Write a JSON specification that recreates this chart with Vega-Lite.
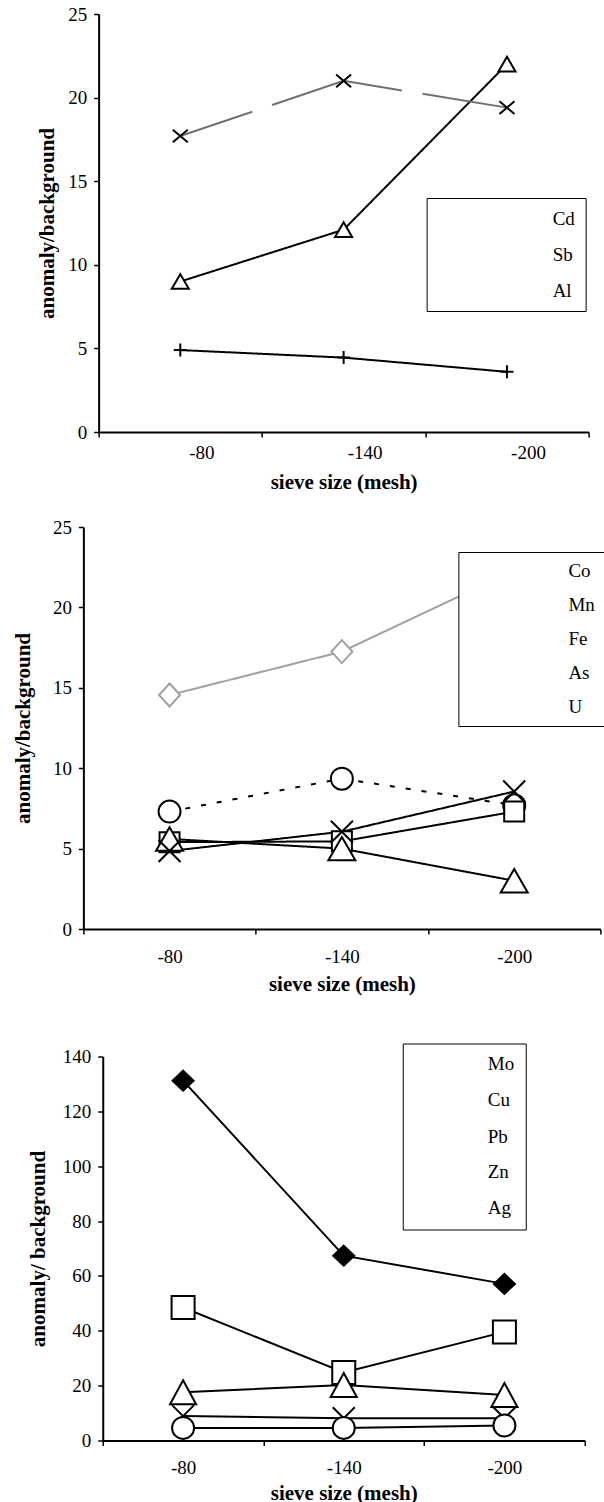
{
  "$schema": "https://vega.github.io/schema/vega-lite/v6.json",
  "padding": {"left": 12, "top": 5, "right": 0, "bottom": 0},
  "background": "#ffffff",
  "datasets": {
    "p1": [
      {"el": "Cd", "mesh": "-80", "v": 9.0}, {"el": "Cd", "mesh": "-140", "v": 12.1}, {"el": "Cd", "mesh": "-200", "v": 22.0},
      {"el": "Sb", "mesh": "-80", "v": 17.7}, {"el": "Sb", "mesh": "-140", "v": 21.0}, {"el": "Sb", "mesh": "-200", "v": 19.4},
      {"el": "Al", "mesh": "-80", "v": 4.9}, {"el": "Al", "mesh": "-140", "v": 4.45}, {"el": "Al", "mesh": "-200", "v": 3.6}
    ],
    "p2": [
      {"el": "Co", "mesh": "-80", "v": 7.3}, {"el": "Co", "mesh": "-140", "v": 9.35}, {"el": "Co", "mesh": "-200", "v": 7.7},
      {"el": "Mn", "mesh": "-80", "v": 5.4}, {"el": "Mn", "mesh": "-140", "v": 5.45}, {"el": "Mn", "mesh": "-200", "v": 7.3},
      {"el": "Fe", "mesh": "-80", "v": 5.6}, {"el": "Fe", "mesh": "-140", "v": 5.0}, {"el": "Fe", "mesh": "-200", "v": 3.0},
      {"el": "As", "mesh": "-80", "v": 4.85}, {"el": "As", "mesh": "-140", "v": 6.05}, {"el": "As", "mesh": "-200", "v": 8.55},
      {"el": "U", "mesh": "-80", "v": 14.55}, {"el": "U", "mesh": "-140", "v": 17.25}, {"el": "U", "mesh": "-200", "v": 22.3}
    ],
    "p3": [
      {"el": "Mo", "mesh": "-80", "v": 131.2}, {"el": "Mo", "mesh": "-140", "v": 67.4}, {"el": "Mo", "mesh": "-200", "v": 57.1},
      {"el": "Cu", "mesh": "-80", "v": 48.5}, {"el": "Cu", "mesh": "-140", "v": 24.8}, {"el": "Cu", "mesh": "-200", "v": 39.6},
      {"el": "Pb", "mesh": "-80", "v": 17.6}, {"el": "Pb", "mesh": "-140", "v": 20.2}, {"el": "Pb", "mesh": "-200", "v": 16.6},
      {"el": "Zn", "mesh": "-80", "v": 8.9}, {"el": "Zn", "mesh": "-140", "v": 8.1}, {"el": "Zn", "mesh": "-200", "v": 8.1},
      {"el": "Ag", "mesh": "-80", "v": 4.6}, {"el": "Ag", "mesh": "-140", "v": 4.6}, {"el": "Ag", "mesh": "-200", "v": 5.5}
    ]
  },
  "config": {
    "view": {"stroke": null},
    "font": "Liberation Serif",
    "axis": {
      "grid": false,
      "domainColor": "#000000", "domainWidth": 2,
      "tickColor": "#000000", "tickWidth": 1.5, "tickSize": 5,
      "labelFont": "Liberation Serif", "labelFontSize": 19, "labelColor": "#000000",
      "titleFont": "Liberation Serif", "titleFontSize": 21, "titleFontWeight": "bold", "titleColor": "#000000"
    }
  },
  "spacing": 25,
  "center": true,
  "resolve": {"scale": {"shape": "independent"}, "legend": {"shape": "independent"}},
  "vconcat": [
    {
      "width": 490, "height": 418,
      "data": {"name": "p1"},
      "encoding": {
        "x": {"field": "mesh", "type": "nominal", "sort": ["-80", "-140", "-200"],
              "scale": {"type": "band", "paddingInner": 0, "paddingOuter": 0},
              "axis": {"title": "sieve size (mesh)", "labelAngle": 0, "tickBand": "extent", "labelPadding": 6, "labelOffset": 21, "titlePadding": 9.5}},
        "y": {"field": "v", "type": "quantitative", "scale": {"domain": [0, 25], "nice": false, "zero": true},
              "axis": {"title": "anomaly/background", "values": [0, 5, 10, 15, 20, 25], "labelPadding": 7, "titlePadding": 10}}
      },
      "layer": [
        {
          "mark": {"type": "line", "strokeWidth": 2},
          "encoding": {
            "detail": {"field": "el", "type": "nominal"},
            "color": {"condition": {"test": "datum.el === 'Sb'", "value": "#707070"}, "value": "#000000"},
            "strokeDash": {"condition": {"test": "datum.el === 'Sb'", "value": [76, 21, 134.4, 21, 100]}, "value": [1, 0]},
            "order": {"value": null}
          }
        },
        {
          "mark": {"type": "point", "filled": true, "size": 900, "strokeWidth": 2, "opacity": 1, "fill": "#ffffff", "stroke": "#000000"},
          "encoding": {
            "shape": {"field": "el", "type": "nominal",
                      "scale": {"domain": ["Cd", "Sb", "Al"], "range": ["M0,-0.49L0.567,0.49L-0.567,0.49Z", "M-0.5,-0.42L0.5,0.42M-0.5,0.42L0.5,-0.42", "M-0.433,0H0.433M0,-0.433V0.433"]},
                      "legend": {
                        "orient": "none", "legendX": 328, "legendY": 184, "title": null, "padding": 10,
                        "strokeColor": "#000000", "fillColor": "#ffffff",
                        "symbolSize": 376, "symbolStrokeWidth": 2, "symbolOpacity": 1,
                        "symbolFillColor": "#ffffff", "symbolStrokeColor": "#000000",
                        "labelFont": "Liberation Serif", "labelFontSize": 19, "labelColor": "#000000", "labelOffset": 94, "rowPadding": 15
                      }}
          }
        }
      ]
    },
    {
      "spacing": 47.5,
      "center": true,
      "resolve": {"scale": {"shape": "independent"}, "legend": {"shape": "independent"}},
      "vconcat": [
        {
          "width": 517, "height": 402,
          "data": {"name": "p2"},
          "encoding": {
            "x": {"field": "mesh", "type": "nominal", "sort": ["-80", "-140", "-200"],
                  "scale": {"type": "band", "paddingInner": 0, "paddingOuter": 0},
                  "axis": {"title": "sieve size (mesh)", "labelAngle": 0, "tickBand": "extent", "labelPadding": 13, "titlePadding": 7.5}},
            "y": {"field": "v", "type": "quantitative", "scale": {"domain": [0, 25], "nice": false, "zero": true},
                  "axis": {"title": "anomaly/background", "values": [0, 5, 10, 15, 20, 25], "labelPadding": 7, "titlePadding": 19}}
          },
          "layer": [
            {
              "mark": {"type": "line", "strokeWidth": 2},
              "encoding": {
                "detail": {"field": "el", "type": "nominal"},
                "color": {"condition": {"test": "datum.el === 'U'", "value": "#a0a0a0"}, "value": "#000000"},
                "strokeDash": {"condition": {"test": "datum.el === 'Co'", "value": [5, 11]}, "value": [1, 0]},
                "order": {"value": null}
              }
            },
            {
              "mark": {"type": "point", "filled": true, "size": 900, "strokeWidth": 2, "opacity": 1, "fill": "#ffffff"},
              "encoding": {
                "stroke": {"condition": {"test": "datum.el === 'U'", "value": "#a0a0a0"}, "value": "#000000"},
                "shape": {"field": "el", "type": "nominal",
                          "scale": {"domain": ["Co", "Mn", "Fe", "As", "U"], "range": [
                            "M0.733,0A0.733,0.733,0,1,1,-0.733,0A0.733,0.733,0,1,1,0.733,0Z",
                            "M-0.667,-0.667H0.667V0.667H-0.667Z",
                            "M0,-0.78L0.9,0.78L-0.9,0.78Z",
                            "M-0.733,-0.733L0.733,0.733M-0.733,0.733L0.733,-0.733",
                            "M0,-0.767L0.7,0L0,0.767L-0.7,0Z"]},
                          "legend": {
                            "orient": "none", "legendX": 375, "legendY": 25, "title": null, "padding": 9,
                            "strokeColor": "#000000", "fillColor": "#ffffff",
                            "symbolSize": 169, "symbolStrokeWidth": 2, "symbolOpacity": 1,
                            "symbolFillColor": "#ffffff", "symbolStrokeColor": "#000000",
                            "labelFont": "Liberation Serif", "labelFontSize": 19, "labelColor": "#000000", "labelOffset": 82, "rowPadding": 14
                          }}
              }
            }
          ]
        },
        {
          "width": 482, "height": 384,
          "data": {"name": "p3"},
          "encoding": {
            "x": {"field": "mesh", "type": "nominal", "sort": ["-80", "-140", "-200"],
                  "scale": {"type": "band", "paddingInner": 0, "paddingOuter": 0},
                  "axis": {"title": "sieve size (mesh)", "labelAngle": 0, "tickBand": "extent", "labelPadding": 13, "titlePadding": 4.5}},
            "y": {"field": "v", "type": "quantitative", "scale": {"domain": [0, 140], "nice": false, "zero": true},
                  "axis": {"title": "anomaly/ background", "values": [0, 20, 40, 60, 80, 100, 120, 140], "labelPadding": 7, "titlePadding": 14}}
          },
          "layer": [
            {
              "mark": {"type": "line", "strokeWidth": 2, "color": "#000000"},
              "encoding": {
                "detail": {"field": "el", "type": "nominal"},
                "order": {"value": null}
              }
            },
            {
              "mark": {"type": "point", "filled": true, "size": 900, "strokeWidth": 2, "opacity": 1, "stroke": "#000000"},
              "encoding": {
                "fill": {"condition": {"test": "datum.el === 'Mo'", "value": "#000000"}, "value": "#ffffff"},
                "shape": {"field": "el", "type": "nominal",
                          "scale": {"domain": ["Mo", "Cu", "Pb", "Zn", "Ag"], "range": [
                            "M0,-0.667L0.7,0L0,0.667L-0.7,0Z",
                            "M-0.767,-0.767H0.767V0.767H-0.767Z",
                            "M0,-0.8L0.87,0.8L-0.87,0.8Z",
                            "M-0.733,-0.733L0.733,0.733M-0.733,0.733L0.733,-0.733",
                            "M0.733,0A0.733,0.733,0,1,1,-0.733,0A0.733,0.733,0,1,1,0.733,0Z"]},
                          "legend": {
                            "orient": "none", "legendX": 300, "legendY": -13, "title": null, "padding": 11,
                            "strokeColor": "#000000", "fillColor": "#ffffff",
                            "symbolSize": 200, "symbolStrokeWidth": 2, "symbolOpacity": 1,
                            "symbolFillColor": "#ffffff", "symbolStrokeColor": "#000000",
                            "labelFont": "Liberation Serif", "labelFontSize": 19, "labelColor": "#000000", "labelOffset": 55, "rowPadding": 15.75
                          }}
              }
            }
          ]
        }
      ]
    }
  ]
}
